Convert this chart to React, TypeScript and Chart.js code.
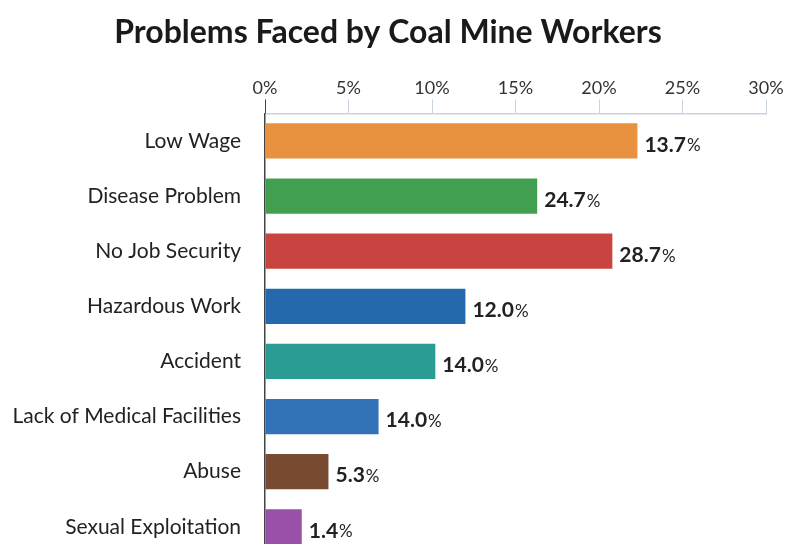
import React, { useEffect, useRef } from "react";
import { Chart, registerables } from "chart.js";

Chart.register(...registerables);

const categories = [
  "Low Wage",
  "Disease Problem",
  "No Job Security",
  "Hazardous Work",
  "Accident",
  "Lack of Medical Facilities",
  "Abuse",
  "Sexual Exploitation",
];
// bar lengths as drawn in the picture (percent axis)
const barValues = [22.3, 16.3, 20.8, 12.0, 10.2, 6.8, 3.8, 2.2];
// value labels printed next to the bars
const valueLabels = ["13.7", "24.7", "28.7", "12.0", "14.0", "14.0", "5.3", "1.4"];
const barColors = [
  "#E8913F",
  "#40A050",
  "#C94440",
  "#2468AE",
  "#2A9C94",
  "#3172B8",
  "#7A4B33",
  "#9A50A8",
];
const xTicks = [0, 5, 10, 15, 20, 25, 30];
const titleText = "Problems Faced by Coal Mine Workers";

const FONT = "Lato, 'Noto Sans', sans-serif";

const valueLabelPlugin = {
  id: "valueLabels",
  afterDatasetsDraw(chart: any) {
    const ctx = chart.ctx;
    const meta = chart.getDatasetMeta(0);
    ctx.save();
    ctx.textBaseline = "middle";
    ctx.textAlign = "left";
    meta.data.forEach((bar: any, i: number) => {
      const x = bar.x + 7;
      const y = bar.y + 4;
      ctx.fillStyle = "#222";
      ctx.font = `bold 21px ${FONT}`;
      const t = valueLabels[i];
      ctx.fillText(t, x, y);
      const w = ctx.measureText(t).width;
      ctx.font = `17px ${FONT}`;
      ctx.fillText("%", x + w + 1, y + 1);
    });
    ctx.restore();
  },
};

export default function App() {
  const ref = useRef<HTMLCanvasElement | null>(null);
  useEffect(() => {
    if (!ref.current) return;
    const chart = new Chart(ref.current, {
      type: "bar",
      data: {
        labels: categories,
        datasets: [
          {
            data: barValues,
            backgroundColor: barColors,
            borderWidth: 0,
            barPercentage: 0.64,
            categoryPercentage: 1,
          },
        ],
      },
      options: {
        indexAxis: "y",
        animation: false,
        responsive: false,
        layout: { padding: { left: 10, right: 21, top: 0, bottom: 0 } },
        plugins: {
          legend: { display: false },
          tooltip: { enabled: false },
          title: {
            display: true,
            text: titleText,
            color: "#1a1a1a",
            font: { family: FONT, size: 32, weight: "bold", lineHeight: 1.2 },
            padding: { top: 13, bottom: 0 },
          },
        },
        scales: {
          x: {
            position: "top",
            min: 0,
            max: 30,
            afterBuildTicks(scale: any) {
              scale.ticks = xTicks.map((v) => ({ value: v }));
            },
            afterFit(scale: any) {
              scale.height = 62;
            },
            ticks: {
              callback: (v: any) => v + "%",
              color: "#333",
              font: { family: FONT, size: 18 },
              padding: 0,
            },
            grid: {
              drawOnChartArea: false,
              drawTicks: true,
              tickLength: 14,
              color: (c: any) => (c.tick && c.tick.value === 0 ? "#444" : "#c9d4e0"),
              lineWidth: 1,
            },
            border: { display: true, color: "#c9d4e0", width: 1.5 },
          },
          y: {
            afterFit(scale: any) {
              scale.width = 255;
            },
            ticks: {
              color: "#222",
              font: { family: FONT, size: 21 },
              padding: 16,
            },
            grid: { display: false },
            border: { display: true, color: "#444", width: 1.5 },
          },
        },
      },
      plugins: [valueLabelPlugin],
    });
    return () => chart.destroy();
  }, []);

  return (
    <div
      style={{
        position: "fixed",
        top: 0,
        left: 0,
        width: 787,
        height: 544,
        overflow: "hidden",
        background: "#fff",
      }}
    >
      <canvas ref={ref} width={787} height={583} style={{ display: "block" }} />
    </div>
  );
}
